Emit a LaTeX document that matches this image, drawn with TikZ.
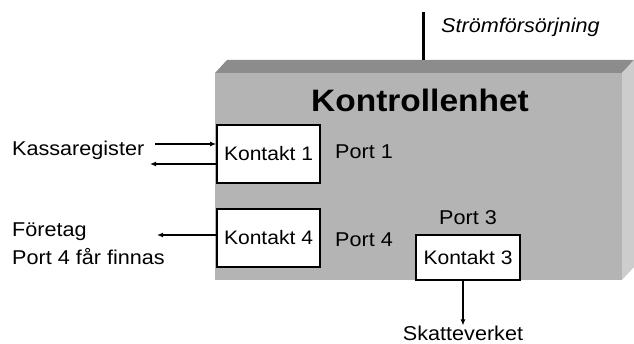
\documentclass[tikz,border=0pt]{standalone}
\usepackage{fontspec}
\setmainfont{Liberation Sans}[FakeStretch=1.08]
\usetikzlibrary{arrows.meta}
\definecolor{framsida}{RGB}{180,180,180}
\definecolor{ovansida}{RGB}{140,140,140}
\definecolor{sidoyta}{RGB}{205,205,205}

\tikzset{
  kontakt/.style={draw,line width=1.6pt,fill=white,minimum width=103pt,minimum height=58pt,inner sep=0pt,font=\fontsize{19.5}{22}\selectfont},
  txt/.style={inner sep=0pt,font=\fontsize{20}{22}\selectfont},
  pil/.style={-{Latex[length=6pt,width=5pt]},line width=1.2pt}
}

\begin{document}
\begin{tikzpicture}[x=1pt,y=-1pt]
\useasboundingbox (0,0) rectangle (634,344);

% lådan
\fill[ovansida] (215,73) -- (227,60) -- (634,60) -- (622,73) -- cycle;
\fill[sidoyta] (622,73) -- (634,60) -- (634,267) -- (622,280) -- cycle;
\fill[framsida] (215,73) rectangle (622,280);

% strömförsörjning
\coordinate (matning) at (423,12);
\coordinate (tak) at (423,60);
\draw[line width=3pt] (matning) -- (tak);
\node[txt,anchor=west,font=\fontsize{20}{22}\selectfont\itshape] (strom) at (441,27) {Strömförsörjning};

\node[inner sep=0pt,font=\fontsize{31}{36}\selectfont\bfseries] (enhet) at (420,100) {Kontrollenhet};

% kontakter
\node[kontakt] (k1) at (268.5,154) {Kontakt 1};
\node[kontakt] (k4) at (268.5,238) {Kontakt 4};
\node[kontakt,minimum width=104pt,minimum height=45pt] (k3) at (468,257.5) {Kontakt 3};

\node[txt,anchor=west] (p1) at (335,152) {Port 1};
\node[txt,anchor=west] (p4) at (335,240) {Port 4};
\node[txt] (p3) at (468,218) {Port 3};

% kassaregister
\node[txt,anchor=west] (kassa) at (12,150) {Kassaregister};
\coordinate (kin) at (155,144);
\coordinate (kut) at (150,164);
\draw[pil] (kin) -- (k1.west |- kin);
\draw[pil] (k1.west |- kut) -- (kut);

% företag
\node[txt,anchor=west] (foretag) at (12,232) {Företag};
\node[txt,anchor=west] (port4) at (12,257) {Port 4 får finnas};
\coordinate (fut) at (157,235);
\draw[pil] (k4.west |- fut) -- (fut);

% skatteverket
\node[txt] (skatt) at (463,333) {Skatteverket};
\draw[pil] (k3.south -| skatt) -- (skatt.north);
\end{tikzpicture}
\end{document}
